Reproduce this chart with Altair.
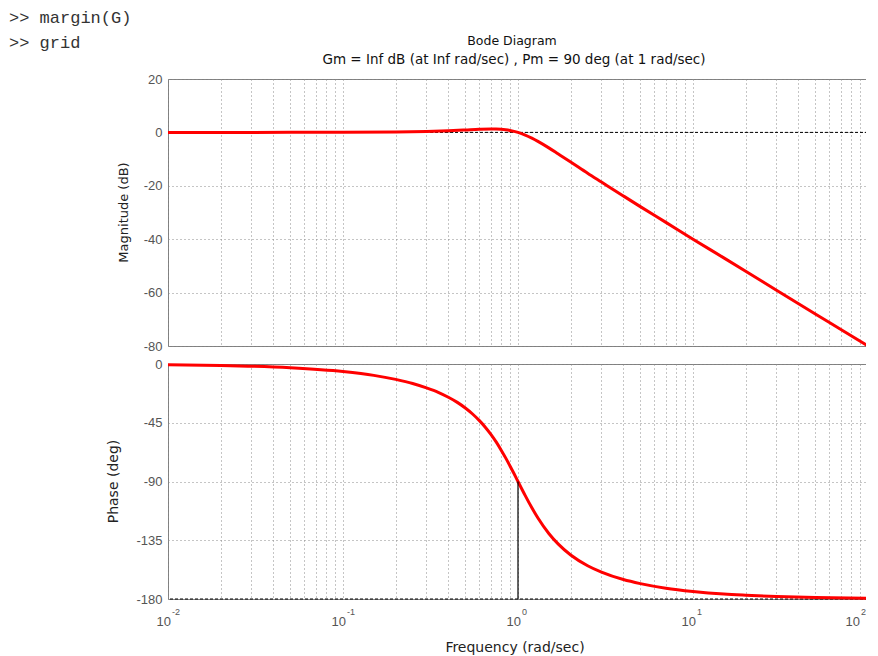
import altair as alt
import pandas as pd

# ---- data ----
freq_mag = [0.01, 0.05, 0.1, 0.2, 0.3, 0.4, 0.5, 0.6, 0.7, 0.75, 0.8, 0.85, 0.9, 0.95,
            1.0, 1.1, 1.2, 1.3, 1.5, 1.7, 2, 2.5, 3, 4, 5, 7, 10, 15, 20, 30, 50, 70, 100]
mag_db = [0.0, 0.01, 0.04, 0.17, 0.37, 0.63, 0.90, 1.14, 1.25, 1.23, 1.14, 0.97, 0.73, 0.40,
          0.0, -0.98, -2.13, -3.36, -5.8, -8.1, -11.1, -15.3, -18.6, -23.8, -27.8, -33.7,
          -40.0, -47.0, -52.0, -59.1, -68.0, -73.8, -80.0]

freq_ph = [0.01, 0.02, 0.05, 0.1, 0.15, 0.2, 0.25, 0.3, 0.35, 0.4, 0.45, 0.5, 0.55, 0.6,
           0.65, 0.7, 0.75, 0.8, 0.85, 0.9, 0.95, 1.0, 1.1, 1.2, 1.3, 1.5, 1.7, 2, 2.5, 3,
           4, 5, 7, 10, 15, 20, 30, 50, 100]
phase_deg = [-0.6, -1.1, -2.9, -5.8, -8.7, -11.8, -14.9, -18.3, -21.7, -25.5, -29.4, -33.7,
             -38.3, -43.2, -48.4, -53.9, -59.7, -65.8, -71.9, -78.1, -84.1, -90.0, -100.8,
             -110.1, -118.0, -129.8, -138.0, -146.3, -154.5, -159.4, -165.1, -168.2, -171.7,
             -174.2, -176.2, -177.1, -178.1, -178.9, -179.4]

decades = [0.01, 0.1, 1, 10, 100]
decade_exp = ["-2", "-1", "0", "1", "2"]
mag_ticks = [20, 0, -20, -40, -60, -80]
phase_ticks = [0, -45, -90, -135, -180]
grid_freqs = [m * d for d in [0.01, 0.1, 1, 10] for m in range(1, 10)] + [100]

pm_freq = 1
pm_phase = -90
ref_db = 0
ref_phase = -180

cmd1 = ">> margin(G)"
cmd2 = ">> grid"
title1 = "Bode Diagram"
title2 = "Gm = Inf dB (at Inf rad/sec) ,  Pm = 90 deg (at 1 rad/sec)"
ylab1 = "Magnitude (dB)"
ylab2 = "Phase (deg)"
xlab = "Frequency  (rad/sec)"

# ---- styling ----
W = 700
H1 = 267
H2 = 235
RED = "#ff0000"
GRID = "#8a8a8a"
SANS = "Liberation Sans"
TSANS = "DejaVu Sans"

x_scale = alt.Scale(type="log", domain=[0.01, 100], nice=False)


def x_axis():
    return alt.Axis(values=grid_freqs, labels=False, ticks=False, domain=False,
                    grid=True, gridColor=GRID, gridDash=[1, 3], gridWidth=1,
                    gridOpacity=1, title=None)


def y_axis(vals):
    return alt.Axis(values=vals, ticks=False, domain=False, grid=True,
                    gridColor=GRID, gridDash=[1, 3], gridWidth=1, gridOpacity=1,
                    labelExpr="'' + datum.value",
                    labelFont=SANS, labelFontSize=13, labelColor="#555555",
                    labelPadding=6, title=None)


one = alt.Data(values=[{}])


def txt(s, x, y, size=13, font=TSANS, align="center", color="#222222", angle=0):
    return alt.Chart(one).mark_text(text=s, align=align, baseline="middle",
                                    font=font, fontSize=size, color=color,
                                    angle=angle).encode(x=alt.value(x), y=alt.value(y))


# ---- magnitude panel ----
mag_df = pd.DataFrame({"freq": freq_mag, "mag": mag_db})
ymag = alt.Scale(domain=[-80, 20], nice=False, zero=False)

mag_line = alt.Chart(mag_df).mark_line(color=RED, strokeWidth=3, interpolate="monotone").encode(
    x=alt.X("freq:Q", scale=x_scale, axis=x_axis()),
    y=alt.Y("mag:Q", scale=ymag, axis=y_axis(mag_ticks)),
)
zero_rule = alt.Chart(one).mark_rule(color="black", strokeDash=[3, 2], strokeWidth=1).encode(
    y=alt.datum(ref_db)
)

upper = alt.layer(
    zero_rule,
    mag_line,
    txt(cmd1, -159, -61, size=17, font="Liberation Mono", align="left", color="#333333"),
    txt(cmd2, -159, -36, size=17, font="Liberation Mono", align="left", color="#333333"),
    txt(title1, 344, -38, size=12.5, color="#111111"),
    txt(title2, 346, -19, size=13.5, color="#111111"),
    txt(ylab1, -44, H1 / 2, size=13, angle=270),
).properties(width=W, height=H1)

# ---- phase panel ----
ph_df = pd.DataFrame({"freq": freq_ph, "phase": phase_deg})
yph = alt.Scale(domain=[-180, 0], nice=False, zero=False)

ph_line = alt.Chart(ph_df).mark_line(color=RED, strokeWidth=3, interpolate="monotone").encode(
    x=alt.X("freq:Q", scale=x_scale, axis=x_axis()),
    y=alt.Y("phase:Q", scale=yph, axis=y_axis(phase_ticks)),
)
ph_rule = alt.Chart(one).mark_rule(color="black", strokeDash=[3, 2], strokeWidth=1).encode(
    y=alt.datum(ref_phase)
)
pm_df = pd.DataFrame({"freq": [pm_freq], "lo": [ref_phase], "hi": [pm_phase]})
pm_rule = alt.Chart(pm_df).mark_rule(color="black", strokeWidth=1.2).encode(
    x="freq:Q", y="lo:Q", y2="hi:Q"
)
dec_df = pd.DataFrame({"freq": decades, "exp": decade_exp, "base": ["10"] * len(decades)})


def dec_labels(cond, dx_base, dx_exp):
    base = alt.Chart(dec_df).transform_filter(cond).mark_text(
        align="right", baseline="middle", dx=dx_base, font=SANS, fontSize=13,
        color="#555555").encode(x="freq:Q", y=alt.value(H2 + 23), text="base:N")
    sup = alt.Chart(dec_df).transform_filter(cond).mark_text(
        align="left", baseline="middle", dx=dx_exp, font=SANS, fontSize=9,
        color="#555555").encode(x="freq:Q", y=alt.value(H2 + 13), text="exp:N")
    return [base, sup]


lower = alt.layer(
    ph_rule,
    ph_line,
    pm_rule,
    *dec_labels("datum.freq < 50", 3, 4),
    *dec_labels("datum.freq > 50", -8, -7),
    txt(xlab, 347, H2 + 49, size=14),
    txt(ylab2, -54, H2 / 2, size=14, angle=270),
).properties(width=W, height=H2)

chart = alt.vconcat(upper, lower, spacing=3).properties(
    padding={"left": 0, "top": 0, "right": -9, "bottom": 0},
    background="white",
).configure_view(stroke="#7f7f7f", strokeWidth=1)

chart.save("out.html", embed_options={"renderer": "svg", "actions": False})
